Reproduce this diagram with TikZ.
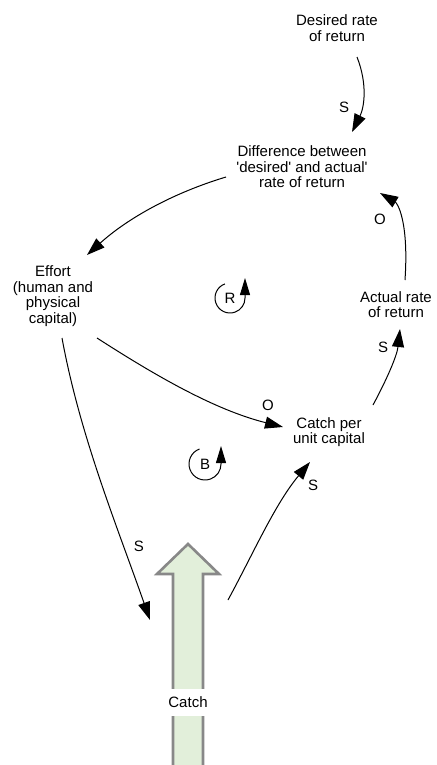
\documentclass[tikz,border=0pt]{standalone}
\usepackage{fontspec}
\setmainfont{Liberation Sans}
\usetikzlibrary{arrows.meta}
\definecolor{catchgreen}{RGB}{226,239,218}
\definecolor{catchgray}{RGB}{136,136,136}
\begin{document}
\begin{tikzpicture}[x=1pt,y=-1pt,
  txt/.style={align=center,font=\fontsize{15}{15.5}\selectfont,inner sep=0pt},
  lbl/.style={font=\fontsize{15}{15}\selectfont,inner sep=0pt},
  link/.style={line width=1pt,-{Triangle[length=18pt,width=12pt]}},
  loopar/.style={line width=1pt,-{Triangle[length=17pt,width=10pt]}},
  bigarrow/.style={line width=2.6pt,draw=catchgray,fill=catchgreen,line join=miter}
]
\useasboundingbox (0,0) rectangle (436,765);

% big catch arrow
\draw[bigarrow] (173,772) -- (173,574) -- (157,574) -- (188,544) -- (219,574) -- (203,574) -- (203,772) -- cycle;
\node[lbl,fill=white,inner xsep=2pt,inner ysep=8pt] (catchlbl) at (188,702) {Catch};

% variables
\node[txt] (desired) at (337,28) {Desired rate\\of return};
\node[txt] (diff) at (302,167) {Difference between\\\textquotesingle desired\textquotesingle{} and actual\textquotesingle\\rate of return};
\node[txt] (effort) at (53,296) {Effort\\(human and\\physical\\capital)};
\node[txt] (actual) at (396,304.5) {Actual rate\\of return};
\node[txt] (cpu) at (329,432) {Catch per\\unit capital};

% links
\draw[link] ([shift={(20,29)}]desired.center) .. controls (368,85) and (364,108) .. ([shift={(50,-35)}]diff.center);
\draw[link] ([shift={(-76,10)}]diff.center) .. controls (173,193) and (128,218) .. ([shift={(34,-41)}]effort.center);
\draw[link] ([shift={(9,-24.5)}]actual.center) .. controls (409,220) and (397,203) .. ([shift={(78,26)}]diff.center);
\draw[link] ([shift={(44,-27)}]cpu.center) .. controls (386,381) and (397,356) .. ([shift={(4,24.5)}]actual.center);
\draw[link] ([shift={(44,42)}]effort.center) .. controls (156,376) and (215,410) .. ([shift={(-46,-5)}]cpu.center);
\draw[link] ([shift={(9,42)}]effort.center) .. controls (80,436) and (117,526) .. ([shift={(-38,-82)}]catchlbl.center);
\draw[link] ([shift={(40,-102)}]catchlbl.center) .. controls (254,552) and (275,504) .. ([shift={(-19,30)}]cpu.center);

% polarity labels
\node[lbl] (s1) at (344,107) {S};
\node[lbl] (o1) at (380,219) {O};
\node[lbl] (s2) at (383,347) {S};
\node[lbl] (o2) at (268,405) {O};
\node[lbl] (s3) at (139,546) {S};
\node[lbl] (s4) at (313,485) {S};

% loop markers
\node[lbl] (R) at (230,298) {R};
\draw[loopar] ([shift={(-110:15)}]R.center) arc[start angle=-110,end angle=-360,radius=15] -- ++(0,-20);
\node[lbl] (B) at (205,464) {B};
\draw[loopar] ([shift={(-110:16)}]B.center) arc[start angle=-110,end angle=-360,radius=16] -- ++(0,-18);
\end{tikzpicture}
\end{document}
